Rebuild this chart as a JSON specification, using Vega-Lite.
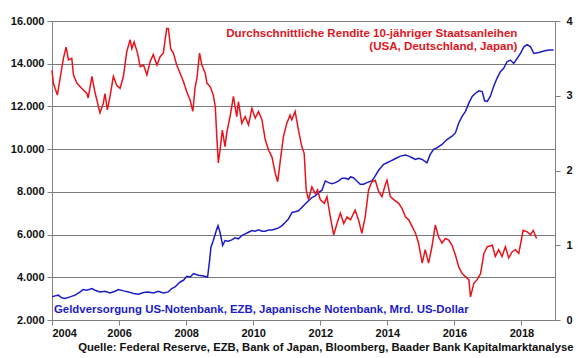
{
  "$schema": "https://vega.github.io/schema/vega-lite/v6.json",
  "width": 503,
  "height": 299,
  "autosize": {"type": "none"},
  "padding": {"left": 52, "top": 21, "right": 25, "bottom": 38},
  "background": "white",
  "config": {
    "view": {"stroke": null},
    "font": "Liberation Sans",
    "axis": {
      "labelFont": "Liberation Sans",
      "labelFontWeight": "bold",
      "labelFontSize": 11,
      "labelColor": "#111111",
      "domainColor": "#808080",
      "tickColor": "#808080",
      "gridColor": "#7a7a7a",
      "gridOpacity": 1
    }
  },
  "datasets": {
    "red": [
      {"t":2004.00,"v":3.34},{"t":2004.04,"v":3.17},{"t":2004.16,"v":3.01},{"t":2004.24,"v":3.23},{"t":2004.34,"v":3.50},{"t":2004.42,"v":3.65},{"t":2004.49,"v":3.48},{"t":2004.59,"v":3.50},{"t":2004.64,"v":3.28},{"t":2004.74,"v":3.17},{"t":2004.84,"v":3.12},{"t":2004.93,"v":3.08},
      {"t":2005.04,"v":3.03},{"t":2005.08,"v":2.97},{"t":2005.19,"v":3.26},{"t":2005.28,"v":3.05},{"t":2005.43,"v":2.77},{"t":2005.53,"v":2.90},{"t":2005.58,"v":3.03},{"t":2005.65,"v":2.81},{"t":2005.73,"v":2.99},{"t":2005.83,"v":3.26},{"t":2005.93,"v":3.14},
      {"t":2006.03,"v":3.10},{"t":2006.13,"v":3.26},{"t":2006.23,"v":3.59},{"t":2006.33,"v":3.75},{"t":2006.38,"v":3.63},{"t":2006.45,"v":3.72},{"t":2006.55,"v":3.57},{"t":2006.63,"v":3.39},{"t":2006.73,"v":3.41},{"t":2006.83,"v":3.28},{"t":2006.93,"v":3.46},
      {"t":2007.02,"v":3.55},{"t":2007.13,"v":3.41},{"t":2007.22,"v":3.52},{"t":2007.32,"v":3.57},{"t":2007.42,"v":3.90},{"t":2007.47,"v":3.90},{"t":2007.54,"v":3.63},{"t":2007.62,"v":3.57},{"t":2007.72,"v":3.41},{"t":2007.82,"v":3.30},{"t":2007.92,"v":3.19},
      {"t":2008.02,"v":3.05},{"t":2008.12,"v":2.94},{"t":2008.20,"v":2.79},{"t":2008.27,"v":3.12},{"t":2008.32,"v":3.23},{"t":2008.40,"v":3.57},{"t":2008.47,"v":3.41},{"t":2008.57,"v":3.30},{"t":2008.62,"v":3.17},{"t":2008.72,"v":3.12},{"t":2008.81,"v":3.01},{"t":2008.87,"v":2.85},{"t":2008.92,"v":2.41},{"t":2008.96,"v":2.10},
      {"t":2009.01,"v":2.27},{"t":2009.08,"v":2.54},{"t":2009.16,"v":2.32},{"t":2009.21,"v":2.50},{"t":2009.31,"v":2.72},{"t":2009.41,"v":2.99},{"t":2009.51,"v":2.72},{"t":2009.56,"v":2.92},{"t":2009.66,"v":2.63},{"t":2009.76,"v":2.72},{"t":2009.86,"v":2.61},{"t":2009.96,"v":2.83},
      {"t":2010.06,"v":2.70},{"t":2010.16,"v":2.79},{"t":2010.26,"v":2.68},{"t":2010.36,"v":2.41},{"t":2010.46,"v":2.27},{"t":2010.56,"v":2.18},{"t":2010.66,"v":1.96},{"t":2010.73,"v":1.85},{"t":2010.81,"v":2.14},{"t":2010.90,"v":2.45},
      {"t":2011.00,"v":2.63},{"t":2011.10,"v":2.74},{"t":2011.15,"v":2.68},{"t":2011.25,"v":2.79},{"t":2011.35,"v":2.54},{"t":2011.45,"v":2.32},{"t":2011.52,"v":2.23},{"t":2011.58,"v":1.74},{"t":2011.65,"v":1.61},{"t":2011.75,"v":1.78},{"t":2011.85,"v":1.69},{"t":2011.92,"v":1.74},
      {"t":2012.00,"v":1.61},{"t":2012.12,"v":1.56},{"t":2012.20,"v":1.65},{"t":2012.30,"v":1.38},{"t":2012.40,"v":1.14},{"t":2012.50,"v":1.29},{"t":2012.60,"v":1.43},{"t":2012.70,"v":1.29},{"t":2012.80,"v":1.38},{"t":2012.90,"v":1.34},
      {"t":2013.04,"v":1.47},{"t":2013.14,"v":1.34},{"t":2013.24,"v":1.16},{"t":2013.34,"v":1.38},{"t":2013.44,"v":1.74},{"t":2013.54,"v":1.85},{"t":2013.64,"v":1.87},{"t":2013.74,"v":1.72},{"t":2013.84,"v":1.65},{"t":2013.94,"v":1.81},{"t":2013.99,"v":1.87},
      {"t":2014.09,"v":1.65},{"t":2014.19,"v":1.61},{"t":2014.34,"v":1.56},{"t":2014.44,"v":1.49},{"t":2014.54,"v":1.38},{"t":2014.64,"v":1.34},{"t":2014.74,"v":1.25},{"t":2014.84,"v":1.16},{"t":2014.93,"v":1.03},
      {"t":2015.04,"v":0.76},{"t":2015.13,"v":0.94},{"t":2015.23,"v":0.76},{"t":2015.33,"v":0.98},{"t":2015.43,"v":1.27},{"t":2015.53,"v":1.11},{"t":2015.63,"v":1.03},{"t":2015.73,"v":1.09},{"t":2015.83,"v":1.07},{"t":2015.93,"v":1.00},
      {"t":2016.03,"v":0.87},{"t":2016.13,"v":0.71},{"t":2016.23,"v":0.62},{"t":2016.33,"v":0.58},{"t":2016.43,"v":0.54},{"t":2016.48,"v":0.31},{"t":2016.58,"v":0.49},{"t":2016.68,"v":0.54},{"t":2016.78,"v":0.62},{"t":2016.88,"v":0.89},{"t":2016.98,"v":0.98},
      {"t":2017.13,"v":1.00},{"t":2017.22,"v":0.85},{"t":2017.32,"v":0.94},{"t":2017.42,"v":0.85},{"t":2017.52,"v":0.98},{"t":2017.62,"v":0.83},{"t":2017.72,"v":0.91},{"t":2017.82,"v":0.94},{"t":2017.92,"v":0.89},
      {"t":2018.05,"v":1.20},{"t":2018.17,"v":1.18},{"t":2018.27,"v":1.14},{"t":2018.35,"v":1.20},{"t":2018.45,"v":1.09}
    ],
    "blue": [
      {"t":2004.00,"v":3084},{"t":2004.09,"v":3130},{"t":2004.19,"v":3163},{"t":2004.29,"v":3037},{"t":2004.39,"v":3009},{"t":2004.54,"v":3084},{"t":2004.69,"v":3163},{"t":2004.84,"v":3316},{"t":2004.93,"v":3428},
      {"t":2005.04,"v":3395},{"t":2005.19,"v":3474},{"t":2005.28,"v":3395},{"t":2005.43,"v":3316},{"t":2005.58,"v":3349},{"t":2005.73,"v":3270},{"t":2005.88,"v":3349},{"t":2005.98,"v":3428},
      {"t":2006.13,"v":3363},{"t":2006.28,"v":3316},{"t":2006.43,"v":3242},{"t":2006.58,"v":3209},{"t":2006.73,"v":3288},{"t":2006.87,"v":3316},
      {"t":2007.02,"v":3270},{"t":2007.17,"v":3349},{"t":2007.32,"v":3270},{"t":2007.47,"v":3316},{"t":2007.57,"v":3474},{"t":2007.67,"v":3549},{"t":2007.82,"v":3781},{"t":2007.92,"v":3860},
      {"t":2008.02,"v":4046},{"t":2008.12,"v":4014},{"t":2008.22,"v":4172},{"t":2008.37,"v":4093},{"t":2008.52,"v":4060},{"t":2008.64,"v":4014},{"t":2008.70,"v":4791},{"t":2008.74,"v":5409},{"t":2008.81,"v":5721},{"t":2008.90,"v":6186},{"t":2008.95,"v":6418},
      {"t":2009.01,"v":6107},{"t":2009.09,"v":5488},{"t":2009.16,"v":5721},{"t":2009.26,"v":5688},{"t":2009.36,"v":5753},{"t":2009.46,"v":5846},{"t":2009.56,"v":5800},{"t":2009.66,"v":5953},{"t":2009.76,"v":6032},{"t":2009.86,"v":6107},{"t":2009.96,"v":6186},
      {"t":2010.06,"v":6153},{"t":2010.16,"v":6218},{"t":2010.26,"v":6153},{"t":2010.36,"v":6153},{"t":2010.46,"v":6218},{"t":2010.56,"v":6218},{"t":2010.66,"v":6265},{"t":2010.76,"v":6311},{"t":2010.86,"v":6418},{"t":2010.96,"v":6572},
      {"t":2011.05,"v":6730},{"t":2011.16,"v":7037},{"t":2011.25,"v":7070},{"t":2011.35,"v":7116},{"t":2011.45,"v":7270},{"t":2011.55,"v":7428},{"t":2011.65,"v":7581},{"t":2011.75,"v":7735},{"t":2011.85,"v":7814},{"t":2011.95,"v":7967},
      {"t":2012.05,"v":8079},{"t":2012.15,"v":8511},{"t":2012.25,"v":8432},{"t":2012.35,"v":8386},{"t":2012.45,"v":8432},{"t":2012.55,"v":8511},{"t":2012.65,"v":8637},{"t":2012.75,"v":8637},{"t":2012.84,"v":8590},{"t":2012.90,"v":8698},{"t":2012.99,"v":8665},
      {"t":2013.09,"v":8511},{"t":2013.19,"v":8358},{"t":2013.29,"v":8358},{"t":2013.39,"v":8432},{"t":2013.54,"v":8511},{"t":2013.64,"v":8744},{"t":2013.74,"v":9009},{"t":2013.89,"v":9288},{"t":2013.99,"v":9363},
      {"t":2014.09,"v":9442},{"t":2014.19,"v":9516},{"t":2014.29,"v":9595},{"t":2014.39,"v":9674},{"t":2014.54,"v":9721},{"t":2014.64,"v":9674},{"t":2014.74,"v":9595},{"t":2014.84,"v":9516},{"t":2014.93,"v":9567},
      {"t":2015.04,"v":9516},{"t":2015.18,"v":9363},{"t":2015.28,"v":9753},{"t":2015.38,"v":9986},{"t":2015.48,"v":10060},{"t":2015.63,"v":10218},{"t":2015.78,"v":10451},{"t":2015.93,"v":10604},
      {"t":2016.03,"v":10758},{"t":2016.13,"v":11223},{"t":2016.23,"v":11535},{"t":2016.33,"v":11767},{"t":2016.43,"v":12153},{"t":2016.53,"v":12465},{"t":2016.63,"v":12619},{"t":2016.73,"v":12730},{"t":2016.83,"v":12697},{"t":2016.90,"v":12265},{"t":2016.98,"v":12232},
      {"t":2017.07,"v":12465},{"t":2017.17,"v":12930},{"t":2017.27,"v":13316},{"t":2017.37,"v":13628},{"t":2017.47,"v":13781},{"t":2017.57,"v":14093},{"t":2017.67,"v":14172},{"t":2017.77,"v":14014},{"t":2017.87,"v":14246},{"t":2017.97,"v":14479},
      {"t":2018.07,"v":14791},{"t":2018.17,"v":14898},{"t":2018.27,"v":14791},{"t":2018.37,"v":14479},{"t":2018.52,"v":14526},{"t":2018.67,"v":14591},{"t":2018.81,"v":14637},{"t":2018.96,"v":14637}
    ],
    "rednotes": [
      {"t":2017.88,"v":15395,"label":"Durchschnittliche Rendite  10-jähriger Staatsanleihen"},
      {"t":2017.88,"v":14790,"label":"(USA, Deutschland, Japan)"}
    ],
    "bluenotes": [
      {"t":2004.06,"v":2465,"label":"Geldversorgung US-Notenbank, EZB, Japanische Notenbank, Mrd. US-Dollar"}
    ]
  },
  "layer": [
    {
      "layer": [
        {
          "data": {"name": "blue"},
          "mark": {"type": "line", "color": "#1c1cc8", "strokeWidth": 1.5, "clip": true},
          "encoding": {
            "x": {
              "field": "t", "type": "quantitative",
              "scale": {"domain": [2004, 2019], "nice": false, "zero": false},
              "axis": {
                "values": [2004, 2006, 2008, 2010, 2012, 2014, 2016, 2018],
                "format": "d", "grid": false, "tickSize": 5, "labelPadding": 2,
                "title": "Quelle: Federal Reserve, EZB, Bank of Japan, Bloomberg, Baader Bank Kapitalmarktanalyse",
                "titleFont": "Liberation Sans", "titleFontWeight": "bold", "titleFontSize": 11.3, "titleColor": "#111111",
                "titleAlign": "right", "titleAnchor": "end", "titleX": 521, "titleY": 27, "titleBaseline": "middle"
              }
            },
            "y": {
              "field": "v", "type": "quantitative",
              "scale": {"domain": [2000, 16000], "nice": false, "zero": false},
              "axis": {
                "values": [2000, 4000, 6000, 8000, 10000, 12000, 14000, 16000],
                "labelExpr": "replace(format(datum.value, ','), ',', '.')",
                "grid": true, "tickSize": 5, "labelPadding": 3, "title": null,
                "orient": "left"
              }
            }
          }
        },
        {
          "data": {"name": "rednotes"},
          "mark": {"type": "text", "align": "right", "baseline": "middle", "color": "#e0161e", "font": "Liberation Sans", "fontWeight": "bold", "fontSize": 11.6},
          "encoding": {
            "x": {"field": "t", "type": "quantitative"},
            "y": {"field": "v", "type": "quantitative"},
            "text": {"field": "label"}
          }
        },
        {
          "data": {"name": "bluenotes"},
          "mark": {"type": "text", "align": "left", "baseline": "middle", "color": "#1c1cc8", "font": "Liberation Sans", "fontWeight": "bold", "fontSize": 11.4},
          "encoding": {
            "x": {"field": "t", "type": "quantitative"},
            "y": {"field": "v", "type": "quantitative"},
            "text": {"field": "label"}
          }
        }
      ]
    },
    {
      "data": {"name": "red"},
      "mark": {"type": "line", "color": "#e8141c", "strokeWidth": 1.5},
      "encoding": {
        "x": {"field": "t", "type": "quantitative"},
        "y": {
          "field": "v", "type": "quantitative",
          "scale": {"domain": [0, 4], "nice": false},
          "axis": {
            "values": [0, 1, 2, 3, 4], "format": "d", "grid": false,
            "tickSize": 5, "labelPadding": 6, "title": null, "orient": "right"
          }
        }
      }
    }
  ],
  "resolve": {"scale": {"y": "independent"}}
}
